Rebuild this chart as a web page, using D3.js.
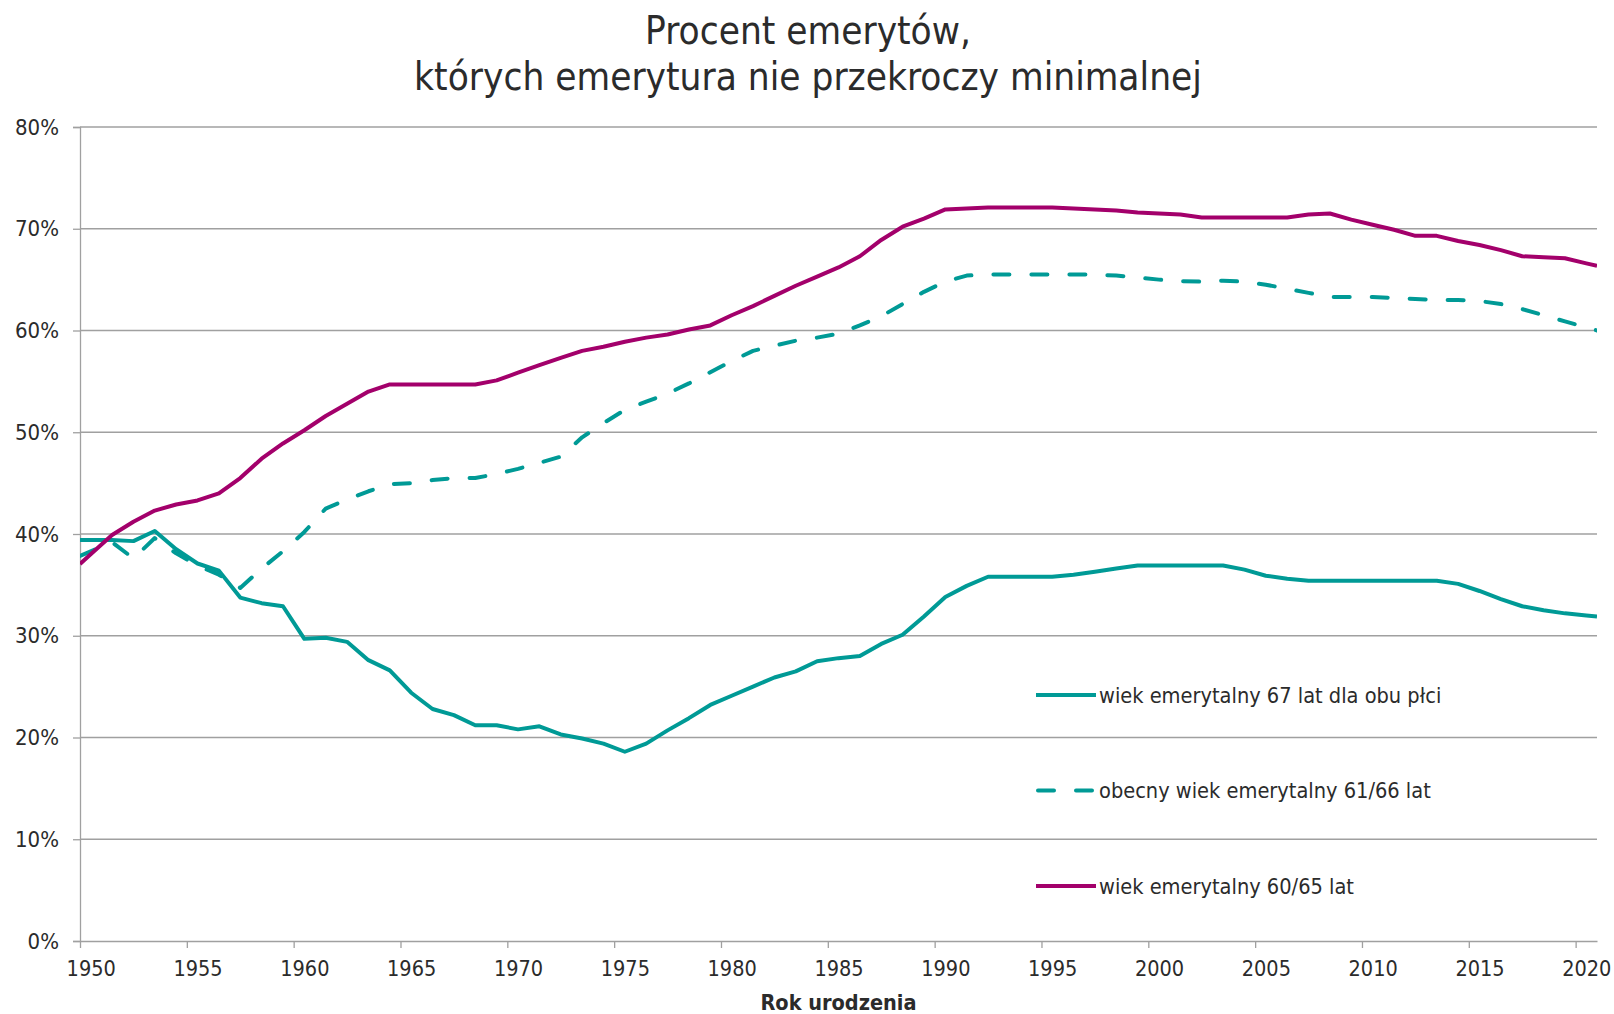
<!DOCTYPE html>
<html>
<head>
<meta charset="utf-8">
<script src="https://cdn.jsdelivr.net/npm/d3@7"></script>
<style>
    body { margin: 0; background: #fff; }
    svg { display: block; font-family: "DejaVu Sans Condensed", "DejaVu Sans", sans-serif; font-stretch: condensed; }
</style>
</head>
<body>
<div id="chart"></div>
<script>
// Rok urodzenia 1950..2020
const years = d3.range(1950, 2021);

// wiek emerytalny 67 lat dla obu płci
const age67 = [
    39.4, 39.4, 39.3, 40.3, 38.5, 37.1, 36.4, 33.75, 33.2, 32.9,
    29.7, 29.8, 29.4, 27.6, 26.6, 24.4, 22.8, 22.2, 21.2, 21.2,
    20.8, 21.1, 20.3, 19.9, 19.4, 18.6, 19.4, 20.7, 21.9, 23.2,
    24.1, 25.0, 25.9, 26.5, 27.5, 27.8, 28.0, 29.2, 30.1, 31.9,
    33.8, 34.9, 35.8, 35.8, 35.8, 35.8, 36.0, 36.3, 36.6, 36.9,
    36.9, 36.9, 36.9, 36.9, 36.5, 35.9, 35.6, 35.4, 35.4, 35.4,
    35.4, 35.4, 35.4, 35.4, 35.1, 34.4, 33.6, 32.9, 32.5, 32.2,
    32.0
];

// obecny wiek emerytalny 61/66 lat
const current6166 = [
    38.3, 39.2, 37.6, 39.6, 38.1, 36.9, 36.0, 34.7, 36.6, 38.3,
    40.2, 42.5, 43.4, 44.2, 44.9, 45.0, 45.3, 45.5, 45.5, 45.9,
    46.4, 47.0, 47.6, 49.5, 50.9, 52.2, 53.0, 53.8, 54.8, 55.9,
    57.0, 58.0, 58.5, 59.0, 59.3, 59.7, 60.5, 61.4, 62.6, 63.8,
    64.8, 65.4, 65.5, 65.5, 65.5, 65.5, 65.5, 65.5, 65.4, 65.2,
    65.0, 64.85, 64.8, 64.9, 64.8, 64.5, 64.1, 63.7, 63.3, 63.3,
    63.3, 63.2, 63.1, 63.0, 63.0, 62.9, 62.6, 62.1, 61.5, 60.9,
    60.3
];

// wiek emerytalny 60/65 lat
const age6065 = [
    38.0, 39.9, 41.2, 42.3, 42.9, 43.3, 44.0, 45.5, 47.4, 48.9,
    50.2, 51.6, 52.8, 54.0, 54.7, 54.7, 54.7, 54.7, 54.7, 55.1,
    55.85, 56.6, 57.3, 58.0, 58.4, 58.9, 59.3, 59.6, 60.1, 60.5,
    61.5, 62.4, 63.4, 64.4, 65.3, 66.2, 67.3, 68.9, 70.2, 71.0,
    71.9, 72.0, 72.1, 72.1, 72.1, 72.1, 72.0, 71.9, 71.8, 71.6,
    71.5, 71.4, 71.1, 71.1, 71.1, 71.1, 71.1, 71.4, 71.5, 70.9,
    70.4, 69.9, 69.3, 69.3, 68.8, 68.4, 67.9, 67.3, 67.2, 67.1,
    66.6
];

const xTickYears = d3.range(1950, 2021, 5);
const yTicks = d3.range(0, 81, 10);

const seriesNames = [
    'wiek emerytalny 67 lat dla obu płci',
    'obecny wiek emerytalny 61/66 lat',
    'wiek emerytalny 60/65 lat'
];
const titleLines = ['Procent emerytów,', 'których emerytura nie przekroczy minimalnej'];
const xTitle = 'Rok urodzenia';

const teal = '#009a96',
    plum = '#a3006b',
    grid = '#a0a0a0',
    textColor = '#2b2b2b';

const series = [
    { name: seriesNames[0], values: age67, color: teal, dash: null },
    { name: seriesNames[1], values: current6166, color: teal, dash: '16 22' },
    { name: seriesNames[2], values: age6065, color: plum, dash: null }
];

const width = 1614,
    height = 1014,
    margin = { top: 127, right: 17, bottom: 73, left: 80 };

// tick units: a year's category spans [year, year + 1]
const x = d3.scaleLinear()
    .domain([1950, 2021])
    .range([margin.left, width - margin.right]);
const y = d3.scaleLinear()
    .domain([0, 80])
    .range([height - margin.bottom, margin.top]);
const half = (x(1951) - x(1950)) / 2;

const svg = d3.select('#chart')
    .append('svg')
    .attr('width', width)
    .attr('height', height);

svg.append('clipPath')
    .attr('id', 'plot-clip')
    .append('rect')
    .attr('x', x(1950))
    .attr('y', 0)
    .attr('width', x(2021) - x(1950))
    .attr('height', height);

// gridlines
svg.append('g')
    .selectAll('line')
    .data(yTicks.slice(1))
    .join('line')
    .attr('x1', x(1950))
    .attr('x2', x(2021))
    .attr('y1', d => y(d))
    .attr('y2', d => y(d))
    .attr('stroke', grid)
    .attr('stroke-width', 1.3);

// y axis
svg.append('g')
    .attr('transform', `translate(${x(1950)},0)`)
    .call(d3.axisLeft(y).tickValues(yTicks).tickFormat(d => d + '%').tickSize(7).tickPadding(14))
    .attr('font-family', null)
    .attr('font-size', null)
    .call(g => g.selectAll('.domain').attr('stroke', grid).attr('stroke-width', 1.3))
    .call(g => g.selectAll('.tick line').attr('stroke', grid).attr('stroke-width', 1.3))
    .call(g => g.selectAll('.tick text')
        .attr('fill', textColor)
        .style('font-size', '22px'));

// x axis
svg.append('g')
    .attr('transform', `translate(0,${y(0)})`)
    .call(d3.axisBottom(x).tickValues(xTickYears).tickFormat(d3.format('d')).tickSize(7).tickSizeOuter(0).tickPadding(13))
    .attr('font-family', null)
    .attr('font-size', null)
    .call(g => g.selectAll('.domain').attr('stroke', grid).attr('stroke-width', 1.3))
    .call(g => g.selectAll('.tick line').attr('stroke', grid).attr('stroke-width', 1.3))
    .call(g => g.selectAll('.tick text')
        .attr('x', half)
        .attr('fill', textColor)
        .style('font-size', '21.5px'));

svg.append('text')
    .attr('x', (x(1950) + x(2021)) / 2)
    .attr('y', 1010)
    .attr('text-anchor', 'middle')
    .attr('fill', textColor)
    .style('font-size', '21.5px')
    .style('font-weight', 'bold')
    .text(xTitle);

// lines: points sit mid-category, end segments run on to the plot edges
const linePoints = values => {
    const pts = values.map((v, i) => [x(years[i] + 0.5), y(v)]);
    const n = pts.length;
    const first = [pts[0][0] - (pts[1][0] - pts[0][0]) / 2, pts[0][1] - (pts[1][1] - pts[0][1]) / 2];
    const last = [pts[n - 1][0] + (pts[n - 1][0] - pts[n - 2][0]) / 2, pts[n - 1][1] + (pts[n - 1][1] - pts[n - 2][1]) / 2];
    return [first, ...pts, last];
};
const line = d3.line();

svg.append('g')
    .attr('fill', 'none')
    .attr('clip-path', 'url(#plot-clip)')
    .selectAll('path')
    .data(series)
    .join('path')
    .attr('stroke', d => d.color)
    .attr('stroke-width', 4)
    .attr('stroke-linejoin', 'round')
    .attr('stroke-linecap', d => d.dash ? 'round' : 'butt')
    .attr('stroke-dasharray', d => d.dash)
    .attr('d', d => line(linePoints(d.values)));

// legend
const legend = svg.append('g')
    .attr('transform', `translate(1036,695)`)
    .selectAll('g')
    .data(series)
    .join('g')
    .attr('transform', (d, i) => `translate(0,${i * 95.5})`);

legend.append('line')
    .attr('x1', d => d.dash ? 2 : 0)
    .attr('x2', d => d.dash ? 58 : 60)
    .attr('stroke', d => d.color)
    .attr('stroke-width', 4)
    .attr('stroke-linecap', d => d.dash ? 'round' : 'butt')
    .attr('stroke-dasharray', d => d.dash);

legend.append('text')
    .attr('x', 63)
    .attr('dy', '0.35em')
    .attr('fill', textColor)
    .style('font-size', '21.6px')
    .text(d => d.name);

// title
svg.append('g')
    .selectAll('text')
    .data(titleLines)
    .join('text')
    .attr('x', 808)
    .attr('y', (d, i) => 44 + i * 46)
    .attr('text-anchor', 'middle')
    .attr('fill', textColor)
    .style('font-size', '38.4px')
    .text(d => d);
</script>
</body>
</html>
